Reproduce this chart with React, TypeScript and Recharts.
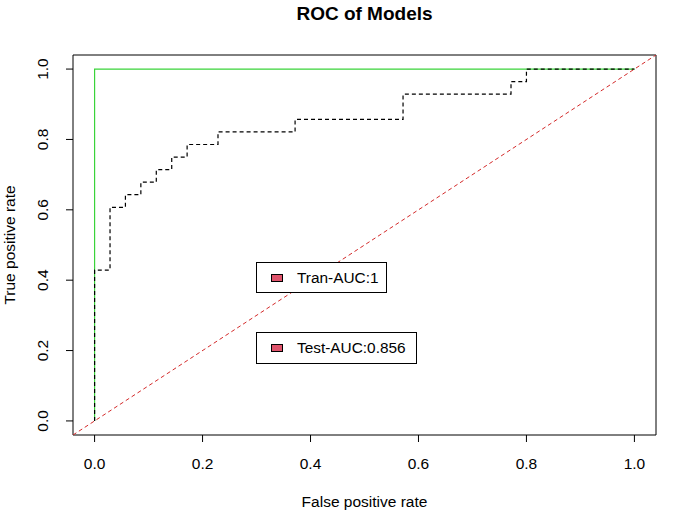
import { LineChart, Line, XAxis, YAxis, ReferenceArea, Label } from 'recharts';

// ROC points (false positive rate, true positive rate)
const trainFpr = [0, 0, 1];
const trainTpr = [0, 1, 1];

const testFpr = [0, 0, 0.0286, 0.0286, 0.0571, 0.0571, 0.0857, 0.0857, 0.1143, 0.1143, 0.1429, 0.1429,
  0.1714, 0.1714, 0.2286, 0.2286, 0.3714, 0.3714, 0.5714, 0.5714, 0.7714, 0.7714, 0.8, 0.8, 1];
const testTpr = [0, 0.4286, 0.4286, 0.6071, 0.6071, 0.6429, 0.6429, 0.6786, 0.6786, 0.7143, 0.7143, 0.75,
  0.75, 0.7857, 0.7857, 0.8214, 0.8214, 0.8571, 0.8571, 0.9286, 0.9286, 0.9643, 0.9643, 1, 1];

const diagX = [-0.04, 1.04];
const diagY = [-0.04, 1.04];

const ticks = [0, 0.2, 0.4, 0.6, 0.8, 1];
const legendItems = ['Tran-AUC:1', 'Test-AUC:0.856'];

const FONT = '"Liberation Sans", Arial, sans-serif';
const LEGEND_FILL = '#DF536B';

const toPoints = (xs: number[], ys: number[]) => xs.map((x, i) => ({ x, y: ys[i] }));

const trainData = toPoints(trainFpr, trainTpr);
const testData = toPoints(testFpr, testTpr);
const diagData = toPoints(diagX, diagY);

const XTick = ({ x, y, payload }: any) => (
  <text x={x} y={y} dy={27} textAnchor="middle" fontSize={15.5} fontFamily={FONT} fill="#000">
    {payload.value.toFixed(1)}
  </text>
);

const YTick = ({ x, y, payload }: any) => {
  const tx = x - 17.5;
  return (
    <text x={tx} y={y} transform={`rotate(-90, ${tx}, ${y})`} textAnchor="middle" fontSize={15.5} fontFamily={FONT} fill="#000">
      {payload.value.toFixed(1)}
    </text>
  );
};

const legendBoxes = [
  { left: 256, top: 262, width: 131, height: 31 },
  { left: 256, top: 332, width: 161, height: 32 },
];

export default function App() {
  return (
    <div style={{ position: 'absolute', left: 0, top: 0, width: 695, height: 520, background: '#fff', fontFamily: FONT }}>
      <div style={{ position: 'absolute', left: 0, top: 3, width: 729, textAlign: 'center', fontWeight: 'bold', fontSize: 19, color: '#000' }}>
        ROC of Models
      </div>
      <LineChart width={695} height={520} margin={{ top: 55, right: 39, bottom: 0, left: 0 }}>
        <XAxis
          type="number"
          dataKey="x"
          domain={[-0.04, 1.04]}
          allowDataOverflow
          ticks={ticks}
          interval={0}
          height={85}
          axisLine={false}
          tickLine={{ stroke: '#000' }}
          tickSize={7}
          tickMargin={0}
          tick={XTick}
        >
          <Label
            content={() => (
              <text x={364.5} y={507} textAnchor="middle" fontSize={15.5} fontFamily={FONT} fill="#000">
                False positive rate
              </text>
            )}
          />
        </XAxis>
        <YAxis
          type="number"
          dataKey="y"
          domain={[-0.04, 1.04]}
          allowDataOverflow
          ticks={ticks}
          interval={0}
          width={73}
          axisLine={false}
          tickLine={{ stroke: '#000' }}
          tickSize={7}
          tickMargin={0}
          tick={YTick}
        >
          <Label
            content={() => (
              <text x={14.5} y={245} transform="rotate(-90, 14.5, 245)" textAnchor="middle" fontSize={15.5} fontFamily={FONT} fill="#000">
                True positive rate
              </text>
            )}
          />
        </YAxis>
        <ReferenceArea x1={-0.04} x2={1.04} y1={-0.04} y2={1.04} fill="none" fillOpacity={0} stroke="#000" strokeWidth={1} ifOverflow="visible" />
        <Line data={trainData} dataKey="y" type="linear" stroke="#3ad33a" strokeWidth={1.2} dot={false} isAnimationActive={false} />
        <Line data={testData} dataKey="y" type="linear" stroke="#000" strokeWidth={1.2} strokeDasharray="4 3" dot={false} isAnimationActive={false} />
        <Line data={diagData} dataKey="y" type="linear" stroke="#d42a2a" strokeWidth={1} strokeDasharray="4 3" dot={false} isAnimationActive={false} />
      </LineChart>
      {legendItems.map((label, i) => {
        const b = legendBoxes[i];
        return (
          <div
            key={label}
            style={{
              position: 'absolute',
              left: b.left,
              top: b.top,
              width: b.width,
              height: b.height,
              boxSizing: 'border-box',
              border: '1px solid #000',
              background: '#fff',
              display: 'flex',
              alignItems: 'center',
            }}
          >
            <div style={{ marginLeft: 14, width: 12, height: 8, boxSizing: 'border-box', border: '1px solid #000', background: LEGEND_FILL }} />
            <span style={{ marginLeft: 14, fontSize: 15.4, color: '#000' }}>{label}</span>
          </div>
        );
      })}
    </div>
  );
}
